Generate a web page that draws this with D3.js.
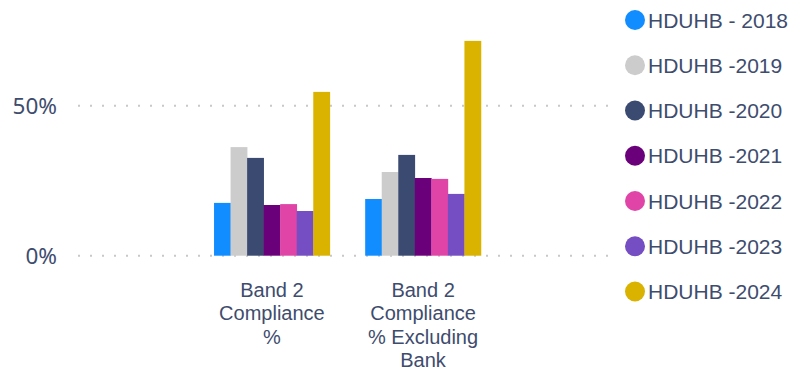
<!DOCTYPE html>
<html><head><meta charset="utf-8">
<script src="https://cdn.jsdelivr.net/npm/d3@7"></script>
<style>body{margin:0;background:#fff}svg{display:block}</style>
</head><body>
<svg id="c" width="790" height="371"></svg>
<script>
const categories = ["Band 2 Compliance %", "Band 2 Compliance % Excluding Bank"];
const categoryLines = [["Band 2","Compliance","%"],["Band 2","Compliance","% Excluding","Bank"]];
const series = ["HDUHB - 2018","HDUHB -2019","HDUHB -2020","HDUHB -2021","HDUHB -2022","HDUHB -2023","HDUHB -2024"];
const colors = ["#118DFF","#CCCCCC","#3A4A70","#6B007B","#E044A7","#744EC2","#D9B300"];
const values = [
  [17.6, 18.9],
  [36.2, 27.9],
  [32.6, 33.6],
  [16.9, 25.9],
  [17.2, 25.6],
  [14.9, 20.6],
  [54.6, 71.6]
];
const yTicks = [0, 50];

const svg = d3.select("#c");
const x0 = d3.scaleBand().domain(categories).range([78, 617]).paddingInner(0.234).paddingOuter(0.9);
const x1 = d3.scaleBand().domain(series).range([0, x0.bandwidth()]);
const y = d3.scaleLinear().domain([0, 80]).range([255.7, 15.7]);

// gridlines
svg.append("g").selectAll("line").data(yTicks).join("line")
  .attr("x1", 78).attr("x2", 617)
  .attr("y1", d => y(d)).attr("y2", d => y(d))
  .attr("stroke", "#C8C8C8").attr("stroke-width", 2)
  .attr("stroke-dasharray", "2,10");

// y axis labels
const yAxis = d3.axisLeft(y).tickValues(yTicks).tickFormat(d => d + "%").tickSize(0).tickPadding(0);
const ya = svg.append("g").attr("transform", "translate(57,0)").call(yAxis);
ya.select(".domain").remove();
ya.selectAll("text").attr("font-family", "'Noto Sans', 'Open Sans', sans-serif")
  .attr("font-size", 22.5).attr("fill", "#3E4C6E").attr("dy", "0.35em");

// bars
const g = svg.append("g");
series.forEach((s, si) => {
  g.selectAll(null).data(categories).join("rect")
    .attr("x", c => x0(c) + x1(s))
    .attr("width", x1.bandwidth() + 0.3)
    .attr("y", (c, ci) => y(values[si][ci]))
    .attr("height", (c, ci) => y(0) - y(values[si][ci]))
    .attr("fill", colors[si]);
});

// x labels
categories.forEach((c, ci) => {
  const t = svg.append("text")
    .attr("x", x0(c) + x0.bandwidth() / 2)
    .attr("text-anchor", "middle")
    .attr("font-family", "'Liberation Sans', Arial, sans-serif")
    .attr("font-size", 20).attr("fill", "#3E4C6E");
  categoryLines[ci].forEach((l, li) => {
    t.append("tspan").attr("x", x0(c) + x0.bandwidth() / 2).attr("y", 297 + li * 23.3).text(l);
  });
});

// legend
const lg = svg.append("g");
series.forEach((s, si) => {
  const cy = 20 + si * 45.25;
  lg.append("circle").attr("cx", 635).attr("cy", cy).attr("r", 10).attr("fill", colors[si]);
  lg.append("text").attr("x", 648).attr("y", cy).attr("dy", "0.36em")
    .attr("font-family", "'Liberation Sans', Arial, sans-serif")
    .attr("font-size", 21).attr("fill", "#3E4C6E").text(s);
});
</script>
</body></html>
